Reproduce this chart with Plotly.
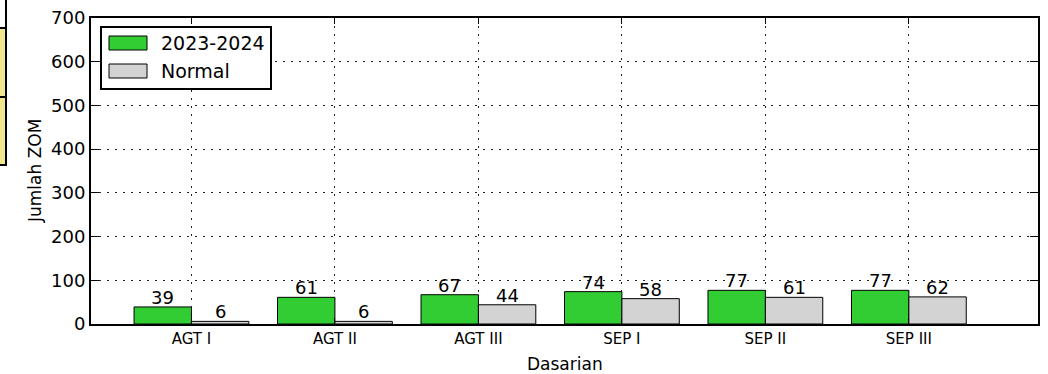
import plotly.graph_objects as go

# Dasarian categories and ZOM counts
categories = ["AGT I", "AGT II", "AGT III", "SEP I", "SEP II", "SEP III"]
season_2023_2024 = [39, 61, 67, 74, 77, 77]
normal = [6, 6, 44, 58, 61, 62]
y_ticks = [0, 100, 200, 300, 400, 500, 600, 700]

GREEN = "#32cd32"
GRAY = "#d3d3d3"
FONT = "DejaVu Sans"

W, H = 1048, 374
L, R, T, B = 91, 10, 18, 50
pw, ph = W - L - R, H - T - B

def px_x(px):
    return (px - L) / pw

def px_y(py):
    return (H - B - py) / ph

xs = list(range(len(categories)))
BAR_W = 0.4

fig = go.Figure()
fig.add_trace(go.Bar(
    x=xs, y=season_2023_2024, width=BAR_W, offset=-BAR_W,
    marker=dict(color=GREEN, line=dict(color="black", width=1)),
    name="2023-2024", showlegend=False,
))
fig.add_trace(go.Bar(
    x=xs, y=normal, width=BAR_W, offset=0,
    marker=dict(color=GRAY, line=dict(color="black", width=1)),
    name="Normal", showlegend=False,
))

shapes = []
annotations = []

# value labels sitting right on top of each bar
for i, (a, b) in enumerate(zip(season_2023_2024, normal)):
    for xc, v in [(i - BAR_W / 2, a), (i + BAR_W / 2, b)]:
        annotations.append(dict(x=xc, y=v, xref="x", yref="y", text=str(v),
                                showarrow=False, xanchor="center", yanchor="bottom",
                                yshift=-3, font=dict(family=FONT, size=18, color="black")))

# axis titles
annotations.append(dict(xref="paper", yref="paper", x=px_x(565), y=px_y(375),
                        xanchor="center", yanchor="bottom", showarrow=False, borderpad=0,
                        text="Dasarian", font=dict(family=FONT, size=17, color="black")))
annotations.append(dict(xref="paper", yref="paper", x=px_x(35), y=px_y(171),
                        xanchor="center", yanchor="middle", showarrow=False, textangle=-90,
                        text="Jumlah ZOM", font=dict(family=FONT, size=17, color="black")))

# hand-drawn legend box in the classic style
lx0, lx1, ly0, ly1 = 101, 271, 27, 89
shapes.append(dict(type="rect", xref="paper", yref="paper",
                   x0=px_x(lx0), x1=px_x(lx1), y0=px_y(ly1), y1=px_y(ly0),
                   line=dict(color="black", width=2), fillcolor="white", layer="above"))
for (yc, col, label) in [(43, GREEN, "2023-2024"), (71, GRAY, "Normal")]:
    shapes.append(dict(type="rect", xref="paper", yref="paper",
                       x0=px_x(109), x1=px_x(147), y0=px_y(yc + 7), y1=px_y(yc - 7),
                       line=dict(color="black", width=1), fillcolor=col, layer="above"))
    annotations.append(dict(xref="paper", yref="paper", x=px_x(159), y=px_y(yc),
                            xanchor="left", yanchor="middle", showarrow=False,
                            text=label, font=dict(family=FONT, size=19, color="black")))

# partially visible table cells at the left edge
for (y0, y1, col) in [(-5, 28, "white"), (28, 97, "#f0e68c"), (97, 165, "#f0e68c")]:
    shapes.append(dict(type="rect", xref="paper", yref="paper",
                       x0=px_x(-20), x1=px_x(6), y0=px_y(y1), y1=px_y(y0),
                       line=dict(color="black", width=2), fillcolor=col, layer="above"))

fig.update_layout(
    width=W, height=H,
    margin=dict(l=L, r=R, t=T, b=B, autoexpand=False),
    paper_bgcolor="white", plot_bgcolor="white",
    barmode="overlay",
    font=dict(family=FONT, color="black"),
    shapes=shapes, annotations=annotations,
)
fig.update_xaxes(
    range=[-0.7, 5.9], tickmode="array", tickvals=xs, ticktext=categories,
    tickfont=dict(family=FONT, size=15, color="black"),
    ticks="inside", ticklen=6, tickcolor="black", tickwidth=1,
    showline=True, linecolor="black", linewidth=2, mirror="ticks",
    showgrid=True, gridcolor="#222222", gridwidth=1, griddash="2px,6px",
    zeroline=False, automargin=False,
)
fig.update_yaxes(
    range=[0, 700], tickmode="array", tickvals=y_ticks,
    tickfont=dict(family=FONT, size=18, color="black"),
    ticks="inside", ticklen=8, tickcolor="black", tickwidth=1,
    showline=True, linecolor="black", linewidth=2, mirror="ticks",
    showgrid=True, gridcolor="#222222", gridwidth=1, griddash="2px,6px",
    zeroline=False, automargin=False,
)

fig.write_html("out.html")
